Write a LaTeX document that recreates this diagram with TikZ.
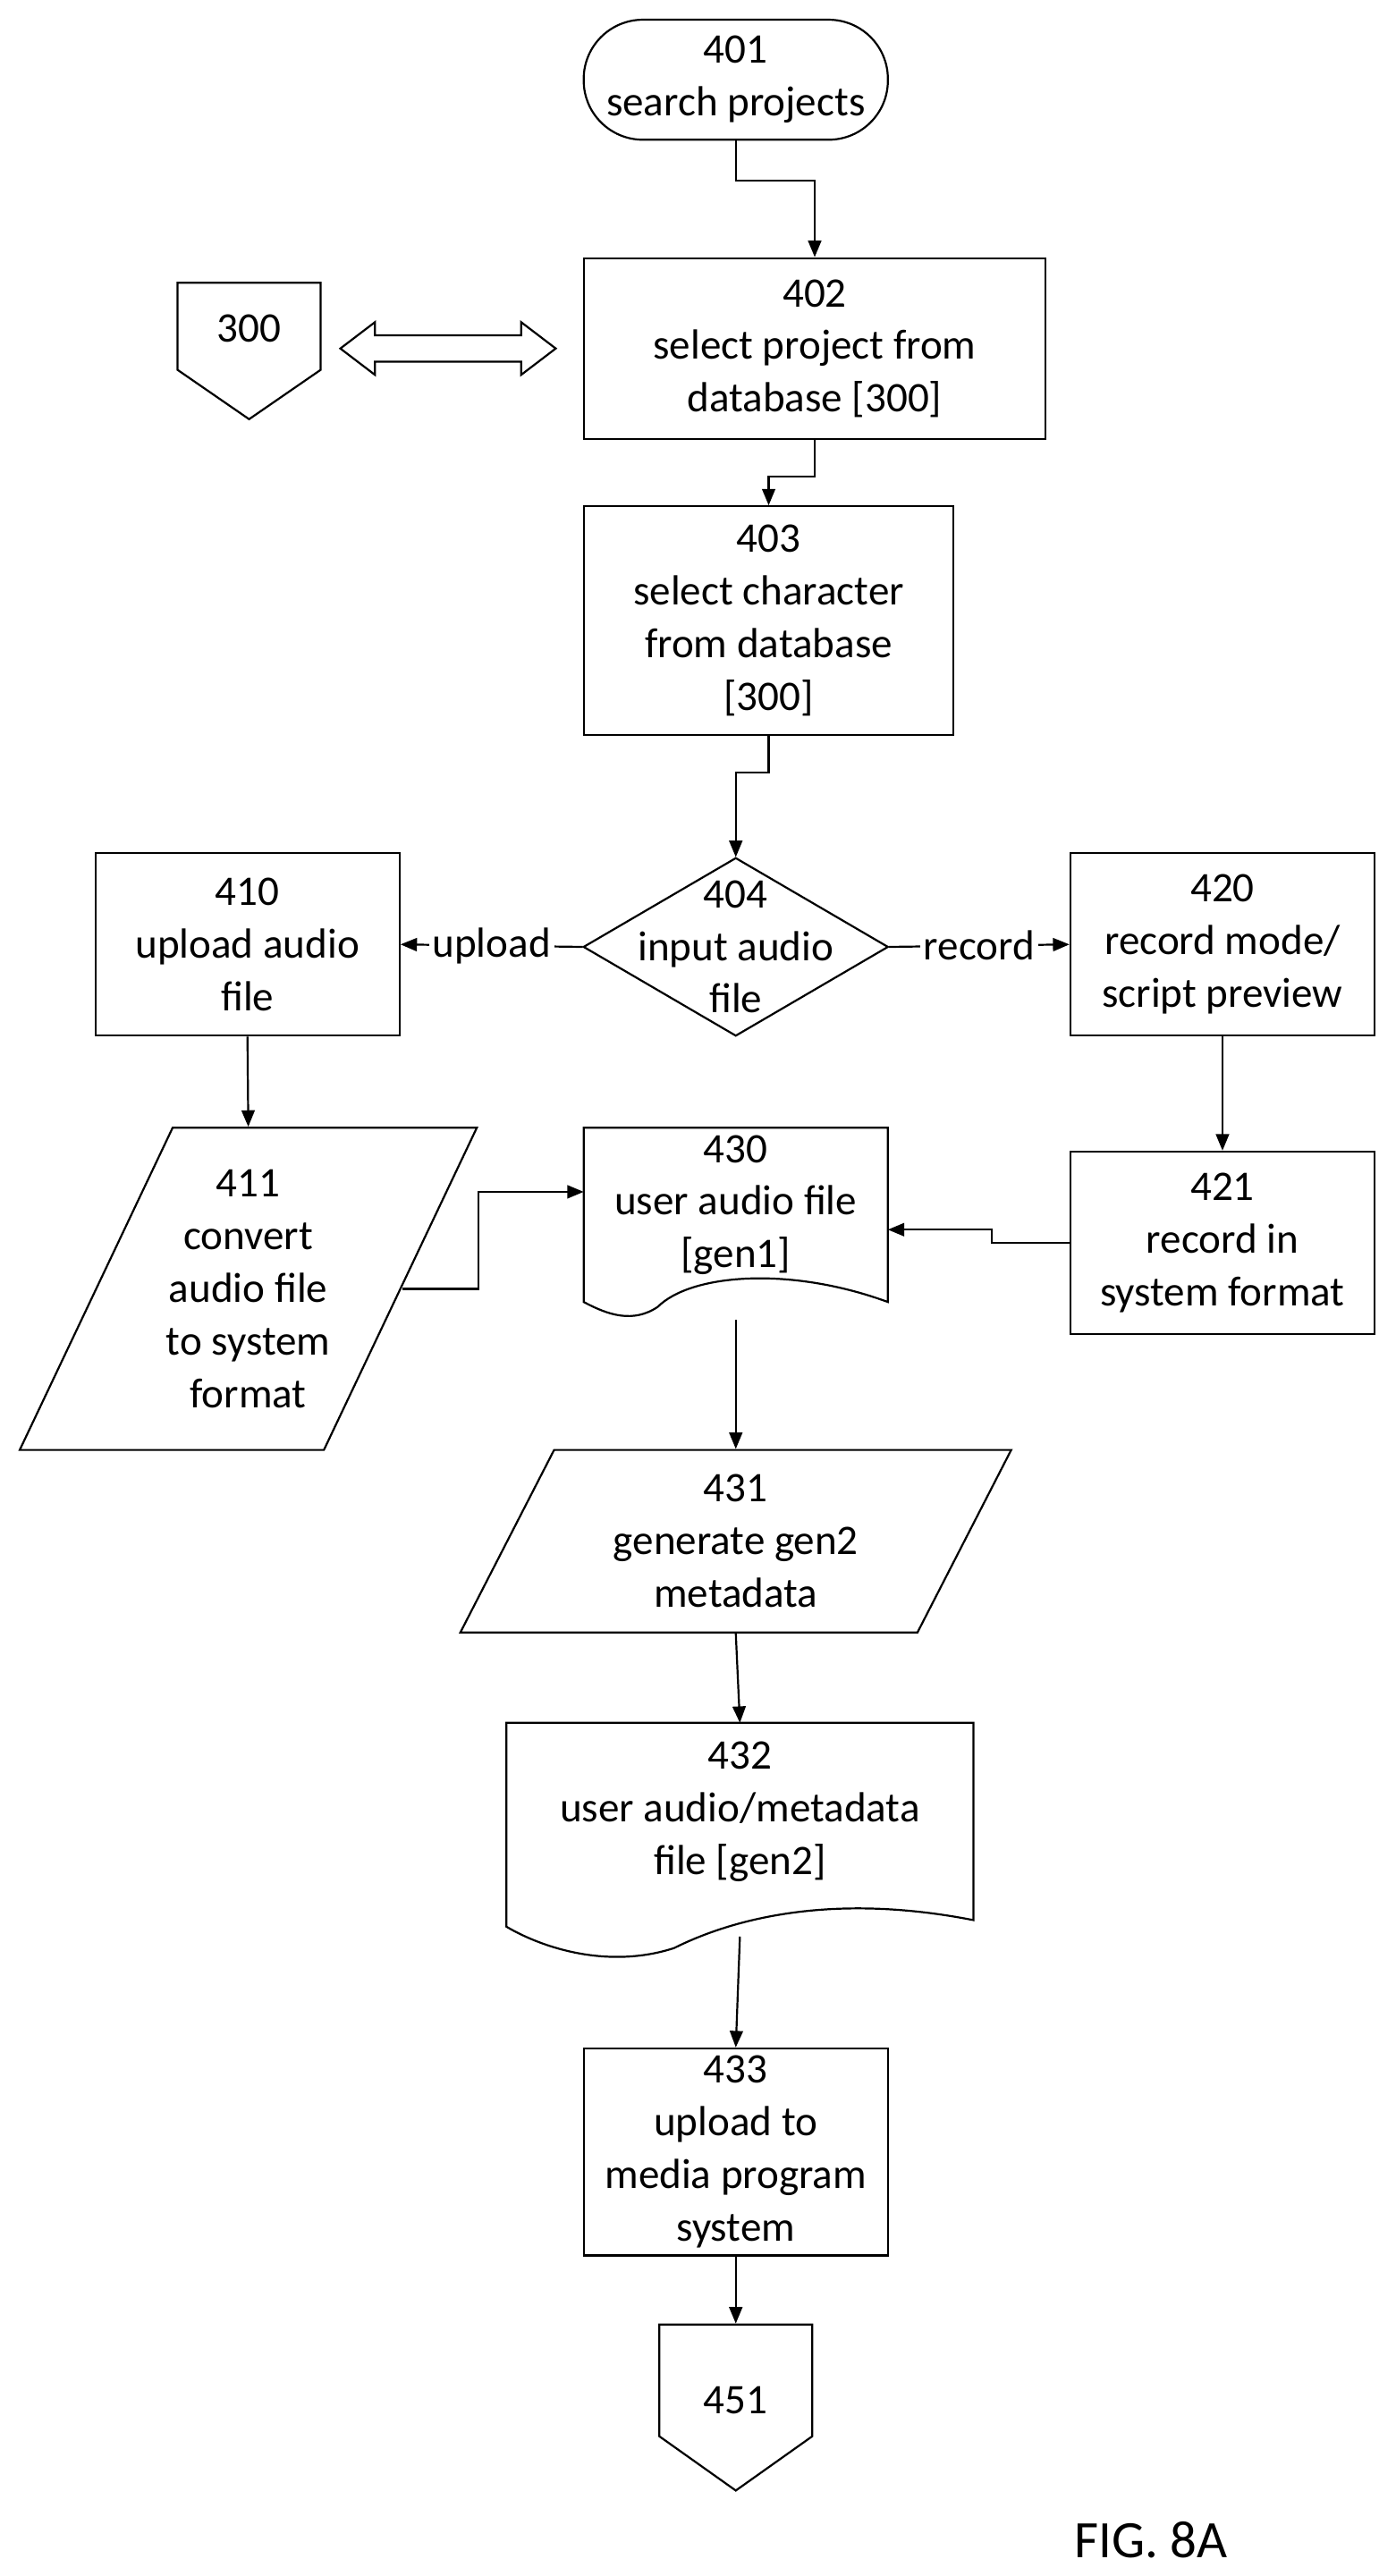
\documentclass[tikz,border=0pt]{standalone}
\usepackage{fontspec}
\setmainfont{Carlito}
\usetikzlibrary{arrows.meta}
\begin{document}
\begin{tikzpicture}[x=0.5pt,y=-0.5pt,line width=0.6pt,
  every node/.style={font=\fontsize{12.8}{16}\selectfont,align=center,inner sep=1pt},
  box/.style={draw},
  txt/.style={draw=none},
  arr/.style={-{Triangle[length=5pt,width=4pt]}},
  lbl/.style={fill=white,inner sep=1pt}]
\useasboundingbox (0,0) rectangle (849,1567);
% 401
\node[box,rounded corners=18pt,minimum width=92.5pt,minimum height=36.5pt] (n401) at (447.5,48.5) {401\\search projects};
% 402
\node[box,minimum width=140.5pt,minimum height=55pt] (n402) at (495.5,212) {402\\select project from\\database [300]};
% 300
\draw (108,172) -- (195,172) -- (195,225) -- (151.5,255) -- (108,225) -- cycle;
\node[txt,minimum width=43.5pt,minimum height=41.5pt] (n300) at (151.5,213.5) {};
\node at (151.5,200) {300};
% double arrow
\draw (207,212) -- (228,196) -- (228,204) -- (317,204) -- (317,196) -- (338,212) -- (317,228) -- (317,220) -- (228,220) -- (228,228) -- cycle;
% 403
\node[box,minimum width=112.5pt,minimum height=69.5pt] (n403) at (467.5,377.5) {403\\select character\\from database\\{[300]}};
% 404
\draw (355,576) -- (447.5,522) -- (540,576) -- (447.5,630) -- cycle;
\node[txt,minimum width=92.5pt,minimum height=54pt] (n404) at (447.5,576) {404\\input audio\\file};
% 410
\node[box,minimum width=92.5pt,minimum height=55.5pt] (n410) at (150.5,574.5) {410\\upload audio\\file};
% 420
\node[box,minimum width=92.5pt,minimum height=55.5pt] (n420) at (743.5,574.5) {420\\record mode/\\script preview};
% 411
\draw (105,686) -- (290,686) -- (197,882) -- (12,882) -- cycle;
\node[txt,minimum width=139pt,minimum height=98pt] (n411) at (151,784) {411\\convert\\audio file\\to system\\format};
% 430
\draw (355,686) -- (540,686) -- (540,792) .. controls (480,770) and (420,775) .. (400,795) .. controls (385,805) and (370,800) .. (355,792) -- cycle;
\node[txt,minimum width=92.5pt,minimum height=57pt] (n430) at (447.5,743) {};
\coordinate (c430w) at (355,725);
\coordinate (c430e) at (540,748);
\node at (447.5,733) {430\\user audio file\\{[gen1]}};
% 421
\node[box,minimum width=92.5pt,minimum height=55.5pt] (n421) at (743.5,756) {421\\record in\\system format};
% 431
\draw (337,882) -- (615,882) -- (558,993) -- (280,993) -- cycle;
\node[txt,minimum width=167.5pt,minimum height=55.5pt] (n431) at (447.5,937.5) {431\\generate gen2\\metadata};
% 432
\draw (308,1048) -- (592,1048) -- (592,1168) .. controls (500,1150) and (440,1170) .. (410,1185) .. controls (370,1198) and (330,1185) .. (308,1172) -- cycle;
\node[txt,minimum width=142pt,minimum height=66pt] (n432) at (450,1114) {};
\node at (450,1102) {432\\user audio/metadata\\file [gen2]};
% 433
\node[box,minimum width=92.5pt,minimum height=63pt] (n433) at (447.5,1309) {433\\upload to\\media program\\system};
% 451
\draw (401,1414) -- (494,1414) -- (494,1482) -- (447.5,1515) -- (401,1482) -- cycle;
\node[txt,minimum width=46.5pt,minimum height=50.5pt] (n451) at (447.5,1464.5) {};
\node at (447.5,1460) {451};
\node[font=\fontsize{16}{19}\selectfont] (fig) at (700,1545) {FIG. 8A};
% connectors
\coordinate (c411e) at (245,784);
\draw[arr] (n401.south) |- (495.5,110) -- (n402.north);
\draw[arr] (n402.south) |- (467.5,290) -- (n403.north);
\draw[arr] (n403.south) |- (447.5,470) -- (n404.north);
\draw[arr] (n404.west) -- node[lbl]{upload} (n410.east);
\draw[arr] (n404.east) -- node[lbl]{record} (n420.west);
\draw[arr] (n410.south) -- (n411.north);
\draw[arr] (n420.south) -- (n421.north);
\draw[arr] (c411e) -| (291,725) -- (c430w);
\draw[arr] (n421.west) -| (603,748) -- (c430e);
\draw[arr] (447.5,803) -- (n431.north);
\draw[arr] (n431.south) -- (450,1048);
\draw[arr] (450,1178) -- (n433.north);
\draw[arr] (n433.south) -- (n451.north);
\end{tikzpicture}
\end{document}
